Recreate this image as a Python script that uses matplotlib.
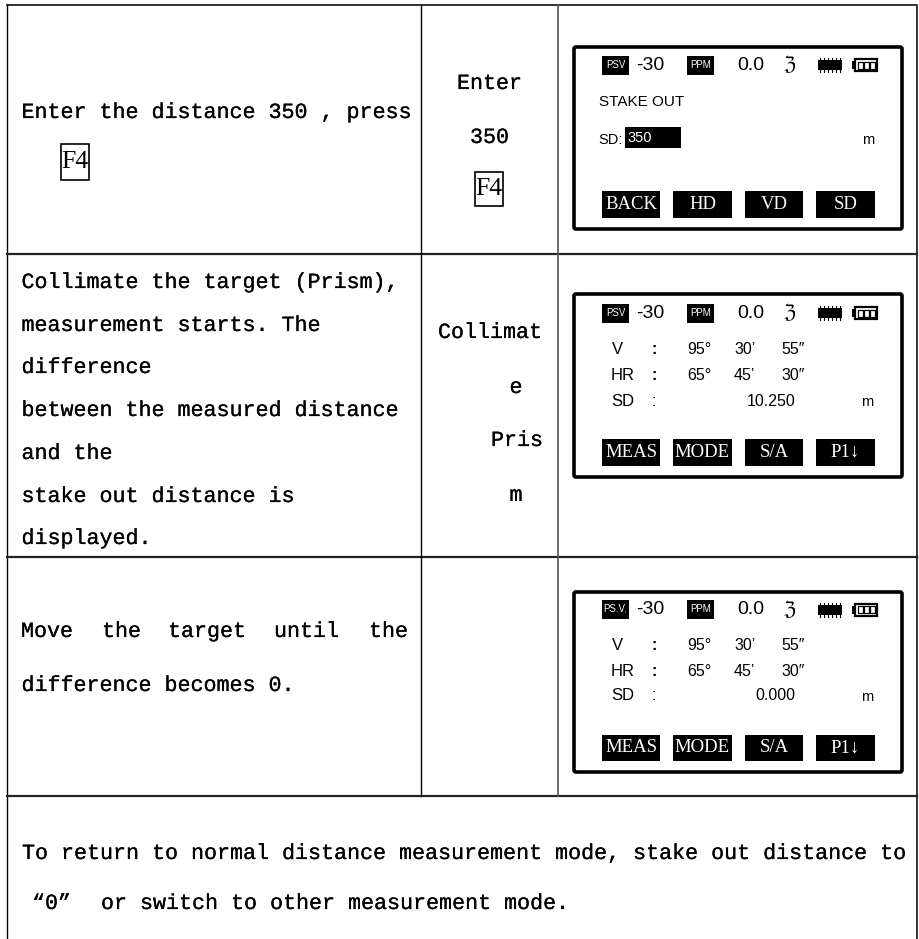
import matplotlib
matplotlib.use("Agg")
import matplotlib.pyplot as plt
import matplotlib.patheffects as pe
from matplotlib.patches import Rectangle, FancyBboxPatch

# table text
step1_lines = ["Enter the distance 350 , press"]
step2_lines = ["Collimate the target (Prism),", "measurement starts. The", "difference",
               "between the measured distance", "and the", "stake out distance is", "displayed."]
step3_words = ["Move", "the", "target", "until", "the"]
step3_line2 = "difference becomes 0."
key1_lines = ["Enter", "350"]
key2_lines = ["Collimat", "e", "Pris", "m"]
note_line1 = "To return to normal distance measurement mode, stake out distance to"
note_quote = "\u201c0\u201d"
note_line2 = "or switch to other measurement mode."
f4_label = "F4"

# screen text
status_values = ["-30", "0.0"]
status_tags = [["PSV", "PPM"], ["PSV", "PPM"], ["PS.V.", "PPM"]]
softkeys = [["BACK", "HD", "VD", "SD"],
            ["MEAS", "MODE", "S/A", "P1\u2193"],
            ["MEAS", "MODE", "S/A", "P1\u2193"]]
row_names = ["V", "HR", "SD"]
angles = [[["95\u00b0", "30\u2019", "55\u2033"], ["65\u00b0", "45\u2019", "30\u2033"]],
          [["95\u00b0", "30\u2019", "55\u2033"], ["65\u00b0", "45\u2019", "30\u2033"]]]
sd_values = ["10.250", "0.000"]

MONO = "Liberation Mono"
SANS = "Liberation Sans"
SERIF = "Liberation Serif"
BODY = 15.6
THICKEN = [pe.withStroke(linewidth=0.15, foreground="black")]

fig = plt.figure(figsize=(9.19, 9.39), dpi=100)
ax = fig.add_axes([0, 0, 1, 1])
ax.set_xlim(0, 919)
ax.set_ylim(939, 0)
ax.axis("off")


def body(x, y, s, ha="left"):
    ax.text(x, y + 0.5, s, family=MONO, fontsize=BODY, ha=ha, va="center", color="black",
            path_effects=THICKEN)


def scr(x, y, s, size=12, ha="left", color="black", family=SANS):
    ax.text(x, y, s, family=family, fontsize=size, ha=ha, va="center", color=color)


def f4_box(x0, y0, x1, y1):
    ax.add_patch(Rectangle((x0, y0), x1 - x0, y1 - y0, fill=False, ec="black", lw=1.2))
    ax.text((x0 + x1) / 2, (y0 + y1) / 2, f4_label, family=SERIF, fontsize=18.5,
            ha="center", va="center", color="black")


# table grid
ax.plot([6.5, 917, 917], [4.5, 4.5, 939], color="#222222", lw=1.3)
ax.plot([6.5, 6.5], [4.5, 939], color="black", lw=1.0)
for y in [254, 557, 796]:
    ax.plot([7, 917], [y, y], color="#222222", lw=1.6)
ax.plot([420.5, 420.5], [4.5, 796], color="black", lw=1.0)
ax.plot([558, 558], [4.5, 796], color="#555555", lw=1.2)

# left column
body(21.5, 112, step1_lines[0])
f4_box(61, 144, 89, 180)
for y, s in zip([282, 325, 367, 410, 453, 496, 538], step2_lines):
    body(21.5, y, s)
for x, s in zip([21, 102, 168, 274, 369], step3_words):
    body(x, 631, s)
body(21.5, 685, step3_line2)

# key column
for y, s in zip([83, 137], key1_lines):
    body(489.5, y, s, ha="center")
f4_box(475, 172, 503, 206)
for x, y, s in zip([490, 516, 517, 516], [332, 387, 440, 495], key2_lines):
    body(x, y, s, ha="center")

# note
body(22, 853, note_line1)
body(32, 903, note_quote)
body(101, 903, note_line2)


def draw_screen(i, top, bottom, head_y, key_y0, key_y1):
    ax.add_patch(FancyBboxPatch((574, top), 328, bottom - top, boxstyle="round,pad=0,rounding_size=2",
                                fill=False, ec="black", lw=2.6))
    # status bar
    for x0, x1, tag in zip([602, 687], [629, 714], status_tags[i]):
        ax.add_patch(Rectangle((x0, head_y - 9.5), x1 - x0, 19, fc="black", ec="none"))
        scr((x0 + x1) / 2, head_y - 0.5, tag, size=7, ha="center", color="white")
    scr(636, head_y, status_values[0], size=14)
    scr(737, head_y, status_values[1], size=14)
    ax.text(790, head_y, "\u2128", family="DejaVu Sans", fontsize=14, ha="center", va="center", color="black")
    # chip and battery icons
    ax.add_patch(Rectangle((818, head_y - 5), 24, 10, fc="black", ec="none"))
    for tooth_x in range(820, 842, 4):
        ax.plot([tooth_x, tooth_x], [head_y - 7, head_y + 7], color="black", lw=0.8)
    ax.add_patch(Rectangle((855, head_y - 6), 22, 12, fc="white", ec="black", lw=1.6))
    ax.add_patch(Rectangle((851.5, head_y - 4), 3.5, 8, fc="black", ec="none"))
    for cell_x in [858, 864, 870]:
        ax.add_patch(Rectangle((cell_x, head_y - 3.5), 4.5, 7, fill=False, ec="black", lw=0.9))
    # softkeys
    for x0, x1, s in zip([602, 673, 745, 816], [660, 732, 803, 875], softkeys[i]):
        ax.add_patch(Rectangle((x0, key_y0), x1 - x0, key_y1 - key_y0, fc="black", ec="none"))
        fam = ["Liberation Serif", "DejaVu Sans"] if "\u2193" in s else SERIF
        ax.text((x0 + x1) / 2, (key_y0 + key_y1) / 2, s, family=fam, fontsize=13.5,
                ha="center", va="center", color="white")


def draw_readout(i, row_ys, unit_y):
    for x, y, s in zip([617, 622.5, 622.5], row_ys, row_names):
        scr(x, y, s, size=12, ha="center")
    for y, weight in zip(row_ys, ["bold", "bold", "normal"]):
        ax.text(654, y, ":", family=SANS, fontsize=11.5, fontweight=weight, ha="center", va="center", color="black")
    for y, vals in zip(row_ys[:2], angles[i]):
        for x, s in zip([687, 734, 781], vals):
            scr(x, y, s, size=11.5)
    scr(795, row_ys[2], sd_values[i], size=11.5, ha="right")
    scr(867.5, unit_y, "m", size=10.5, ha="center")


# screen 1
draw_screen(0, 47, 229, 65, 191, 218)
scr(599, 102, "STAKE OUT", size=11)
scr(598, 139.5, "SD:", size=10.5)
ax.add_patch(Rectangle((625, 127), 56, 21, fc="black", ec="none"))
scr(627, 138, "350", size=10.5, color="white")
scr(868, 140, "m", size=10.5, ha="center")

# screens 2 and 3
draw_screen(1, 294, 477, 313, 439, 466)
draw_readout(0, [350, 376, 401], 402)
draw_screen(2, 592, 772, 609.5, 735, 761)
draw_readout(1, [645, 671, 696], 697)

fig.savefig("out.png", dpi=100, facecolor="white")
